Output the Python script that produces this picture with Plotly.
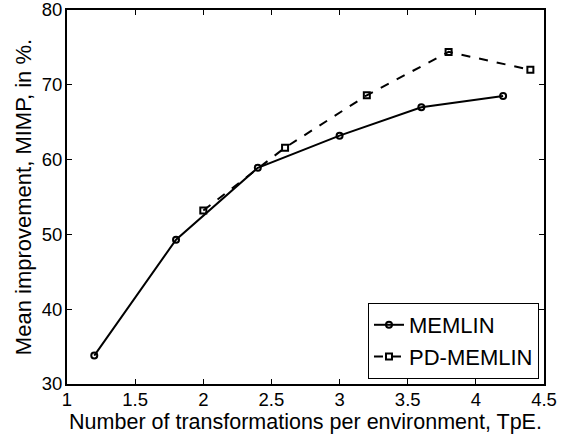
import plotly.graph_objects as go

memlin_x = [1.2, 1.8, 2.4, 3.0, 3.6, 4.2]
memlin_y = [33.8, 49.3, 58.9, 63.2, 67.0, 68.5]
pd_x = [2.0, 2.6, 3.2, 3.8, 4.4]
pd_y = [53.2, 61.6, 68.6, 74.4, 72.0]

xticks = [1, 1.5, 2, 2.5, 3, 3.5, 4, 4.5]
xticklabels = ["1", "1.5", "2", "2.5", "3", "3.5", "4", "4.5"]
yticks = [30, 40, 50, 60, 70, 80]

FONT = "Liberation Sans, Arial, sans-serif"

fig = go.Figure()
fig.add_trace(go.Scatter(
    x=memlin_x, y=memlin_y, mode="lines+markers", name="MEMLIN",
    line=dict(color="black", width=2),
    marker=dict(symbol="circle-open", size=6, color="black", line=dict(width=2)),
))
fig.add_trace(go.Scatter(
    x=pd_x, y=pd_y, mode="lines+markers", name="PD-MEMLIN",
    line=dict(color="black", width=2, dash="dash"),
    marker=dict(symbol="square-open", size=6, color="black", line=dict(width=2)),
))

fig.update_layout(
    width=570, height=440,
    margin=dict(l=67, r=26, t=10, b=56),
    paper_bgcolor="white", plot_bgcolor="white",
    font=dict(family=FONT, size=19, color="black"),
    showlegend=True,
    legend=dict(
        x=0.9895, y=0.0134, xanchor="right", yanchor="bottom",
        bgcolor="white", bordercolor="black", borderwidth=1,
        font=dict(family=FONT, size=22, color="black"),
        tracegroupgap=0,
    ),
)
fig.update_xaxes(
    range=[1, 4.5], tickvals=xticks, ticktext=xticklabels,
    showline=True, linecolor="black", linewidth=2, mirror="ticks",
    ticks="inside", ticklen=5, tickwidth=1, tickcolor="black",
    showgrid=False, zeroline=False,
    ticklabeloverflow="allow", ticklabelstandoff=-2,
    title=dict(text="Number of transformations per environment, TpE.", standoff=1,
               font=dict(family=FONT, size=21.5)),
    tickfont=dict(family=FONT, size=18.5),
    automargin=False,
)
fig.update_yaxes(
    range=[30, 80], tickvals=yticks,
    showline=True, linecolor="black", linewidth=2, mirror="ticks",
    ticks="inside", ticklen=5, tickwidth=1, tickcolor="black",
    showgrid=False, zeroline=False,
    ticklabeloverflow="allow", ticklabelstandoff=-1,
    title=dict(text="Mean improvement, MIMP, in %.", standoff=4,
               font=dict(family=FONT, size=22)),
    tickfont=dict(family=FONT, size=18.5),
    automargin=False,
)

fig.write_html("out.html")
